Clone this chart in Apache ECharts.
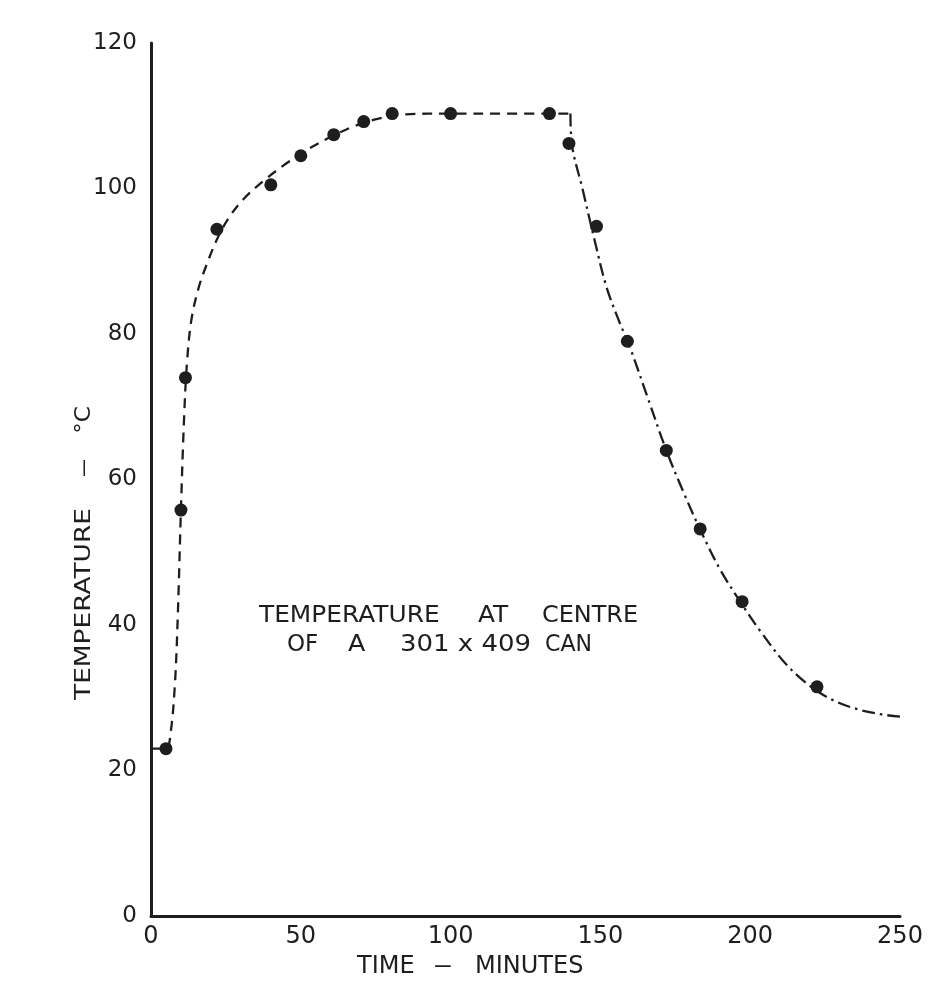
<!DOCTYPE html>
<html>
<head>
<meta charset="utf-8">
<title>Temperature at centre of a 301 x 409 can</title>
<script src="https://cdn.jsdelivr.net/npm/echarts@6/dist/echarts.min.js"></script>
<style>
  html, body { margin: 0; padding: 0; background: #ffffff; }
  #chart { width: 941px; height: 981px; }
</style>
</head>
<body>
<div id="chart"></div>
<script>
// Measured temperatures: time (minutes) and temperature (°C)
const measuredTime = [5, 10, 11.5, 22, 40, 50, 61, 71, 80.5, 100, 133, 139.5, 148.7, 159, 172, 183.3, 197.3, 222.3];
const measuredTemp = [23, 55.8, 74, 94.4, 100.5, 104.5, 107.4, 109.2, 110.3, 110.3, 110.3, 106.2, 94.8, 79, 64, 53.2, 43.2, 31.5];

// Fitted heating curve (dashed)
const heatTime = [0, 5, 6.5, 8, 9, 10, 11, 12, 13.5, 16, 19, 22, 26, 31, 38, 45, 52, 60, 68, 76, 85, 100, 120, 140];
const heatTemp = [23, 23, 25, 32, 42, 56, 68, 76, 82, 86.5, 90, 93, 96, 98.6, 101.2, 103.4, 105.3, 107.1, 108.6, 109.6, 110.2, 110.3, 110.3, 110.3];

// Fitted cooling curve (dash-dot)
const coolTime = [140, 140.5, 144, 148, 152, 156, 160, 166, 172, 178, 184, 190, 197, 204, 212, 220, 228, 236, 244, 250];
const coolTemp = [110.3, 106, 100, 93, 86.5, 82, 78, 71, 64, 58, 52.5, 47.6, 43, 38.8, 34.6, 31.6, 29.6, 28.4, 27.7, 27.4];

// Axis ticks
const xTicks = [0, 50, 100, 150, 200, 250];
const yTicks = [0, 20, 40, 60, 80, 100, 120];

const ink = '#1e1e1e';
const font = 'DejaVu Sans';

const pair = (xs, ys) => xs.map((x, i) => [x, ys[i]]);

// Stencil-style lettering: wide letters, drawn as separate words
function word(text, x, y, size, opts) {
  opts = opts || {};
  return {
    type: 'text', x: x, y: y, silent: true,
    rotation: opts.rotation || 0,
    scaleX: opts.scaleX || 1,
    style: {
      text: text, fill: ink,
      font: size + 'px "' + font + '"',
      align: opts.align || 'left',
      verticalAlign: 'middle'
    }
  };
}

const chart = echarts.init(document.getElementById('chart'), null, { renderer: 'canvas' });

const up = Math.PI / 2;

chart.setOption({
  backgroundColor: '#ffffff',
  animation: false,
  grid: { left: 151, right: 41, top: 43, bottom: 65, containLabel: false },
  xAxis: {
    type: 'value',
    min: xTicks[0],
    max: xTicks[xTicks.length - 1],
    interval: 50,
    axisLine: { show: true, lineStyle: { color: ink, width: 3 } },
    axisTick: { show: false },
    splitLine: { show: false },
    axisLabel: { color: ink, fontFamily: font, fontSize: 24, margin: 9 }
  },
  yAxis: {
    type: 'value',
    min: yTicks[0],
    max: yTicks[yTicks.length - 1],
    interval: 20,
    axisLine: { show: true, onZero: false, lineStyle: { color: ink, width: 3 } },
    axisTick: { show: false },
    splitLine: { show: false },
    axisLabel: { color: ink, fontFamily: font, fontSize: 23, margin: 14 }
  },
  graphic: [
    // annotation inside the plot
    word('TEMPERATURE', 259, 616, 23, { scaleX: 1.08 }),
    word('AT', 478, 616, 23, { scaleX: 1.08 }),
    word('CENTRE', 542, 616, 23, { scaleX: 1.04 }),
    word('OF', 287, 645, 23, { scaleX: 1.0 }),
    word('A', 348, 645, 23, { scaleX: 1.1 }),
    word('301 x 409', 400, 645, 23, { scaleX: 1.13 }),
    word('CAN', 545, 645, 23, { scaleX: 0.96 }),
    // y-axis title, reading upwards
    word('TEMPERATURE', 84, 604, 22, { rotation: up, align: 'center', scaleX: 1.2 }),
    word('—', 84, 468, 22, { rotation: up, align: 'center', scaleX: 0.8 }),
    word('°C', 84, 420, 22, { rotation: up, align: 'center', scaleX: 1.05 }),
    // x-axis title
    word('TIME', 357, 967, 24),
    word('—', 443, 967, 24, { align: 'center', scaleX: 0.72 }),
    word('MINUTES', 475, 967, 24)
  ],
  series: [
    {
      name: 'Heating',
      type: 'line',
      data: pair(heatTime, heatTemp),
      smooth: 0.35,
      showSymbol: false,
      lineStyle: { color: ink, width: 2.3, type: [10, 7] },
      z: 2
    },
    {
      name: 'Cooling',
      type: 'line',
      data: pair(coolTime, coolTemp),
      smooth: 0.35,
      showSymbol: false,
      lineStyle: { color: ink, width: 2.3, type: [13, 5, 2.5, 5] },
      z: 2
    },
    {
      name: 'Measured',
      type: 'scatter',
      data: pair(measuredTime, measuredTemp),
      symbol: 'circle',
      symbolSize: 13,
      itemStyle: { color: ink, opacity: 1 },
      z: 3
    }
  ]
});
</script>
</body>
</html>
